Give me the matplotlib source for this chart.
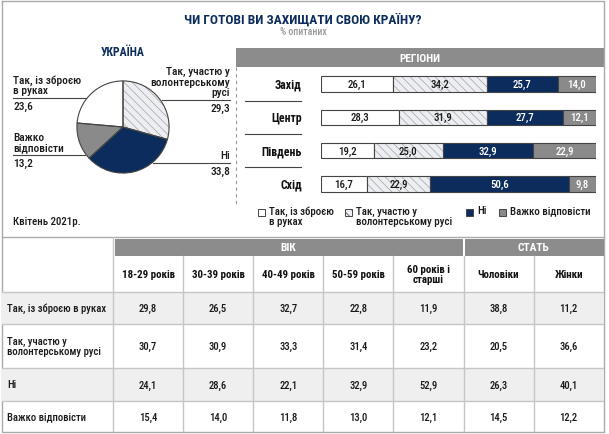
import matplotlib.pyplot as plt
from matplotlib.patches import Rectangle

plt.rcParams['font.family'] = ['Roboto Condensed', 'Liberation Sans Narrow',
                               'DejaVu Sans Condensed', 'Roboto', 'DejaVu Sans']
plt.rcParams['font.weight'] = 'medium'
plt.rcParams['hatch.linewidth'] = 0.5

NAVY = '#0b2c5c'
GRAY = '#8a8a8a'
BAND = '#8c8c8c'
HATCH_BG = '#eceef1'
HATCH_C = '#a4a4a4'
LINE = '#444444'
GRID = '#c6c6c6'
TXT = '#1a1a1a'

# --- дані ---
answers = ['Так, із зброєю в руках', 'Так, участю у волонтерському русі',
           'Ні', 'Важко відповісти']
ukraine = [23.6, 29.3, 33.8, 13.2]

regions = ['Захід', 'Центр', 'Південь', 'Схід']
reg_armed = [26.1, 28.3, 19.2, 16.7]
reg_volunteer = [34.2, 31.9, 25.0, 22.9]
reg_no = [25.7, 27.7, 32.9, 50.6]
reg_hard = [14.0, 12.1, 22.9, 9.8]

table_cols = ['18-29 років', '30-39 років', '40-49 років', '50-59 років',
              '60 років і\nстарші', 'Чоловіки', 'Жінки']
table_rows = ['Так, із зброєю в руках', 'Так, участю у\nволонтерському русі',
              'Ні', 'Важко відповісти']
tab_armed = [29.8, 26.5, 32.7, 22.8, 11.9, 38.8, 11.2]
tab_volunteer = [30.7, 30.9, 33.3, 31.4, 23.2, 20.5, 36.6]
tab_no = [24.1, 28.6, 22.1, 32.9, 52.9, 26.3, 40.1]
tab_hard = [15.4, 14.0, 11.8, 13.0, 12.1, 14.5, 12.2]


def fmt(v):
    return f'{v:.1f}'.replace('.', ',')


W, H = 609, 435
fig = plt.figure(figsize=(W / 100, H / 100), dpi=100)


def box(x0, y0, x1, y1):
    return [x0 / W, 1 - y1 / H, (x1 - x0) / W, (y1 - y0) / H]


bg = fig.add_axes([0, 0, 1, 1])
bg.set_xlim(0, W)
bg.set_ylim(H, 0)
bg.axis('off')

# рамка
bg.plot([2, 604, 604, 2, 2], [2, 2, 433, 433, 2], color='#aaaaaa', lw=1)
bg.plot([2, 604], [237.5, 237.5], color='#aaaaaa', lw=1)

bg.text(303, 20, 'ЧИ ГОТОВІ ВИ ЗАХИЩАТИ СВОЮ КРАЇНУ?', ha='center', va='center',
        fontsize=9.6, weight='bold', color=NAVY)
bg.text(303, 32, '% опитаних', ha='center', va='center', fontsize=7, color='#999999')
bg.text(123, 53, 'УКРАЇНА', ha='center', va='center', fontsize=8.5, weight='bold', color=NAVY)
bg.text(13, 222, 'Квітень 2021р.', ha='left', va='center', fontsize=7.8, color=TXT)

# --- кругова діаграма ---
pax = fig.add_axes(box(76, 81, 170, 175))
pie_vals = [ukraine[1], ukraine[2], ukraine[3], ukraine[0]]
pie_cols = [HATCH_BG, NAVY, GRAY, 'white']
wedges, _ = pax.pie(pie_vals, colors=pie_cols, startangle=90, counterclock=False,
                    wedgeprops=dict(linewidth=0))
wedges[0].set_hatch('\\\\\\\\')
wedges[0].set_edgecolor(HATCH_C)
wedges[0].set_linewidth(0)
pax.pie(pie_vals, colors=pie_cols, startangle=90, counterclock=False,
        wedgeprops=dict(fill=False, edgecolor=LINE, linewidth=0.8))
pax.set_xlim(-1.02, 1.02)
pax.set_ylim(-1.02, 1.02)

lab_fs = 8.2
bg.plot([13, 86], [99, 99], color=LINE, lw=0.8)
bg.text(13, 96, 'Так, із зброєю\nв руках', ha='left', va='bottom', fontsize=lab_fs, color=TXT, linespacing=1.05)
bg.text(13, 102, fmt(ukraine[0]), ha='left', va='top', fontsize=lab_fs, color=TXT)
bg.plot([13, 85], [156, 156], color=LINE, lw=0.8)
bg.text(13, 153, 'Важко\nвідповісти', ha='left', va='bottom', fontsize=lab_fs, color=TXT, linespacing=1.05)
bg.text(13, 159, fmt(ukraine[3]), ha='left', va='top', fontsize=lab_fs, color=TXT)
bg.plot([162, 230], [101, 101], color=LINE, lw=0.8)
bg.text(230, 98, 'Так, участю у\nволонтерському\nрусі', ha='right', va='bottom', fontsize=lab_fs,
        color=TXT, linespacing=1.05, multialignment='right')
bg.text(230, 104, fmt(ukraine[1]), ha='right', va='top', fontsize=lab_fs, color=TXT)
bg.plot([153, 230], [164, 164], color=LINE, lw=0.8)
bg.text(230, 161, 'Ні', ha='right', va='bottom', fontsize=lab_fs, color=TXT)
bg.text(230, 167, fmt(ukraine[2]), ha='right', va='top', fontsize=lab_fs, color=TXT)

# --- регіони ---
bg.add_patch(Rectangle((236, 49), 368, 19, color=BAND, lw=0))
bg.text(420, 58.5, 'РЕГІОНИ', ha='center', va='center', fontsize=8.2, weight='bold', color='white')
bg.plot([236, 236], [68, 207], color='#999999', lw=0.8, linestyle=(0, (3, 3)))

bax = fig.add_axes(box(321, 68.5, 596, 201.5))
bax.set_xlim(0, 100)
bax.set_ylim(3.5, -0.5)
bax.axis('off')
ypos = list(range(len(regions)))
series = [reg_armed, reg_volunteer, reg_no, reg_hard]
fills = ['white', HATCH_BG, NAVY, GRAY]
tcols = [TXT, TXT, 'white', 'white']
left = [0.0] * len(regions)
for k, (vals, fc, tc) in enumerate(zip(series, fills, tcols)):
    if k == 1:
        bax.barh(ypos, vals, left=left, height=0.46, color=fc, hatch='\\\\\\\\',
                 edgecolor=HATCH_C, linewidth=0)
    else:
        bax.barh(ypos, vals, left=left, height=0.46, color=fc, linewidth=0)
    bax.barh(ypos, vals, left=left, height=0.46, fill=False, edgecolor=LINE, linewidth=0.8)
    for i, v in enumerate(vals):
        bax.text(left[i] + v / 2, i, fmt(v), ha='center', va='center', fontsize=7.8, color=tc)
    left = [a + b for a, b in zip(left, vals)]

for i, name in enumerate(regions):
    bax.text(-7, i, name, ha='right', va='center', fontsize=8.5, weight='bold',
             color='#111111', clip_on=False)
    if i < len(regions) - 1:
        bax.plot([-27.5, -7.3], [i + 0.5, i + 0.5], color=LINE, lw=0.8, clip_on=False)

# легенда
leg_x = [258, 345, 466, 499]
leg_lab = ['Так, із зброєю\nв руках', 'Так, участю у\nволонтерському русі', 'Ні', 'Важко відповісти']
for x, lab, fc in zip(leg_x, leg_lab, fills):
    bg.add_patch(Rectangle((x, 209.5), 7, 7, facecolor=fc, edgecolor=LINE, lw=0.7,
                           hatch='\\\\\\\\' if fc == HATCH_BG else None))
    bg.text(x + 11, 206.5, lab, ha='left', va='top', fontsize=7.8, color=TXT, linespacing=1.0)

# --- таблиця ---
tax = fig.add_axes(box(2, 238, 604, 433))
tax.set_xlim(0, 602)
tax.set_ylim(195, 0)
tax.axis('off')
cw = 70.1
x_edges = [0, 111] + [111 + cw * k for k in range(1, len(table_cols) + 1)]
y_edges = [55, 87, 131, 164, 195]
data = [tab_armed, tab_volunteer, tab_no, tab_hard]

for r in range(len(table_rows)):
    if r % 2 == 0:
        tax.add_patch(Rectangle((0, y_edges[r]), 602, y_edges[r + 1] - y_edges[r],
                                color='#efefef', lw=0))

tax.add_patch(Rectangle((x_edges[1] + 1.5, 2), x_edges[6] - x_edges[1] - 2.5, 17, color=BAND, lw=0))
tax.add_patch(Rectangle((x_edges[6] + 1, 2), x_edges[8] - x_edges[6] - 1, 17, color=BAND, lw=0))
tax.text((x_edges[1] + x_edges[6]) / 2, 10.5, 'ВІК', ha='center', va='center',
         fontsize=8.2, weight='bold', color='white')
tax.text((x_edges[6] + x_edges[8]) / 2, 10.5, 'СТАТЬ', ha='center', va='center',
         fontsize=8.2, weight='bold', color='white')

for k, x in enumerate(x_edges[1:-1]):
    tax.plot([x, x], [0 if k == 0 else 19, 195], color=GRID, lw=1)
for y in y_edges[:-1]:
    tax.plot([0, 602], [y, y], color=GRID, lw=1)

for c, name in enumerate(table_cols):
    xc = (x_edges[c + 1] + x_edges[c + 2]) / 2
    tax.text(xc, 37, name, ha='center', va='center', fontsize=7.8, weight='bold',
             color='#111111', linespacing=1.0)

for r, name in enumerate(table_rows):
    yc = (y_edges[r] + y_edges[r + 1]) / 2
    tax.text(5, yc, name, ha='left', va='center', fontsize=7.7, color=TXT, linespacing=1.05)
    for c, v in enumerate(data[r]):
        xc = (x_edges[c + 1] + x_edges[c + 2]) / 2
        tax.text(xc, yc, fmt(v), ha='center', va='center', fontsize=7.7, color=TXT)

fig.savefig('out.png', dpi=100)
